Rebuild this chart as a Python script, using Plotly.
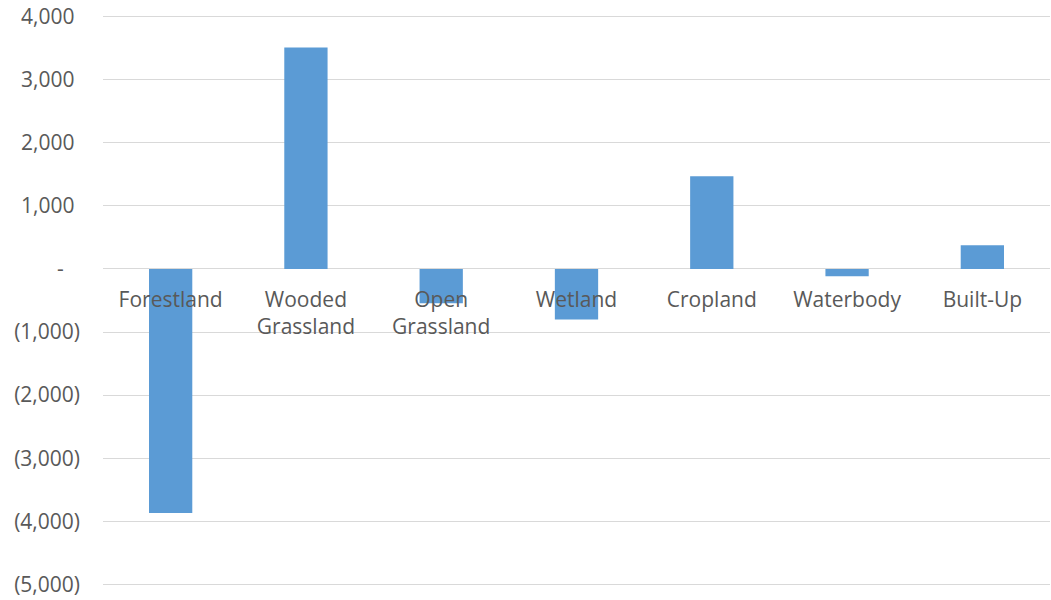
import plotly.graph_objects as go

categories = ["Forestland", "Wooded<br>Grassland", "Open<br>Grassland", "Wetland",
              "Cropland", "Waterbody", "Built-Up"]
values = [-3870, 3510, -545, -800, 1470, -115, 375]

y_tickvals = [4000, 3000, 2000, 1000, 0, -1000, -2000, -3000, -4000, -5000]
y_ticktext = ["4,000\u00a0", "3,000\u00a0", "2,000\u00a0", "1,000\u00a0", "-\u00a0\u00a0\u00a0",
              "(1,000)", "(2,000)", "(3,000)", "(4,000)", "(5,000)"]

FONT = "Open Sans"
GRAY = "#595959"

fig = go.Figure()
fig.add_trace(go.Bar(
    x=categories, y=values,
    marker=dict(color="#5b9bd5", line=dict(width=0)),
    showlegend=False,
))

ymin, ymax = -5200, 4200
zero_pos = (0 - ymin) / (ymax - ymin)

fig.update_layout(
    width=1051, height=600,
    margin=dict(l=103, r=1, t=4, b=3),
    paper_bgcolor="white", plot_bgcolor="white",
    bargap=0.68,
    font=dict(family=FONT, size=21, color=GRAY),
    xaxis=dict(
        anchor="free", position=zero_pos,
        showgrid=False, showline=False, zeroline=False,
        ticks="", tickfont=dict(family=FONT, size=21, color=GRAY),
        ticklabelstandoff=16,
    ),
    yaxis=dict(
        range=[ymin, ymax], tickvals=y_tickvals, ticktext=y_ticktext,
        showgrid=True, gridcolor="#d9d9d9", gridwidth=1,
        zeroline=True, zerolinecolor="#d9d9d9", zerolinewidth=1,
        showline=False, ticks="",
        tickfont=dict(family=FONT, size=21, color=GRAY),
        ticklabelstandoff=22,
    ),
)

fig.write_html("out.html")
